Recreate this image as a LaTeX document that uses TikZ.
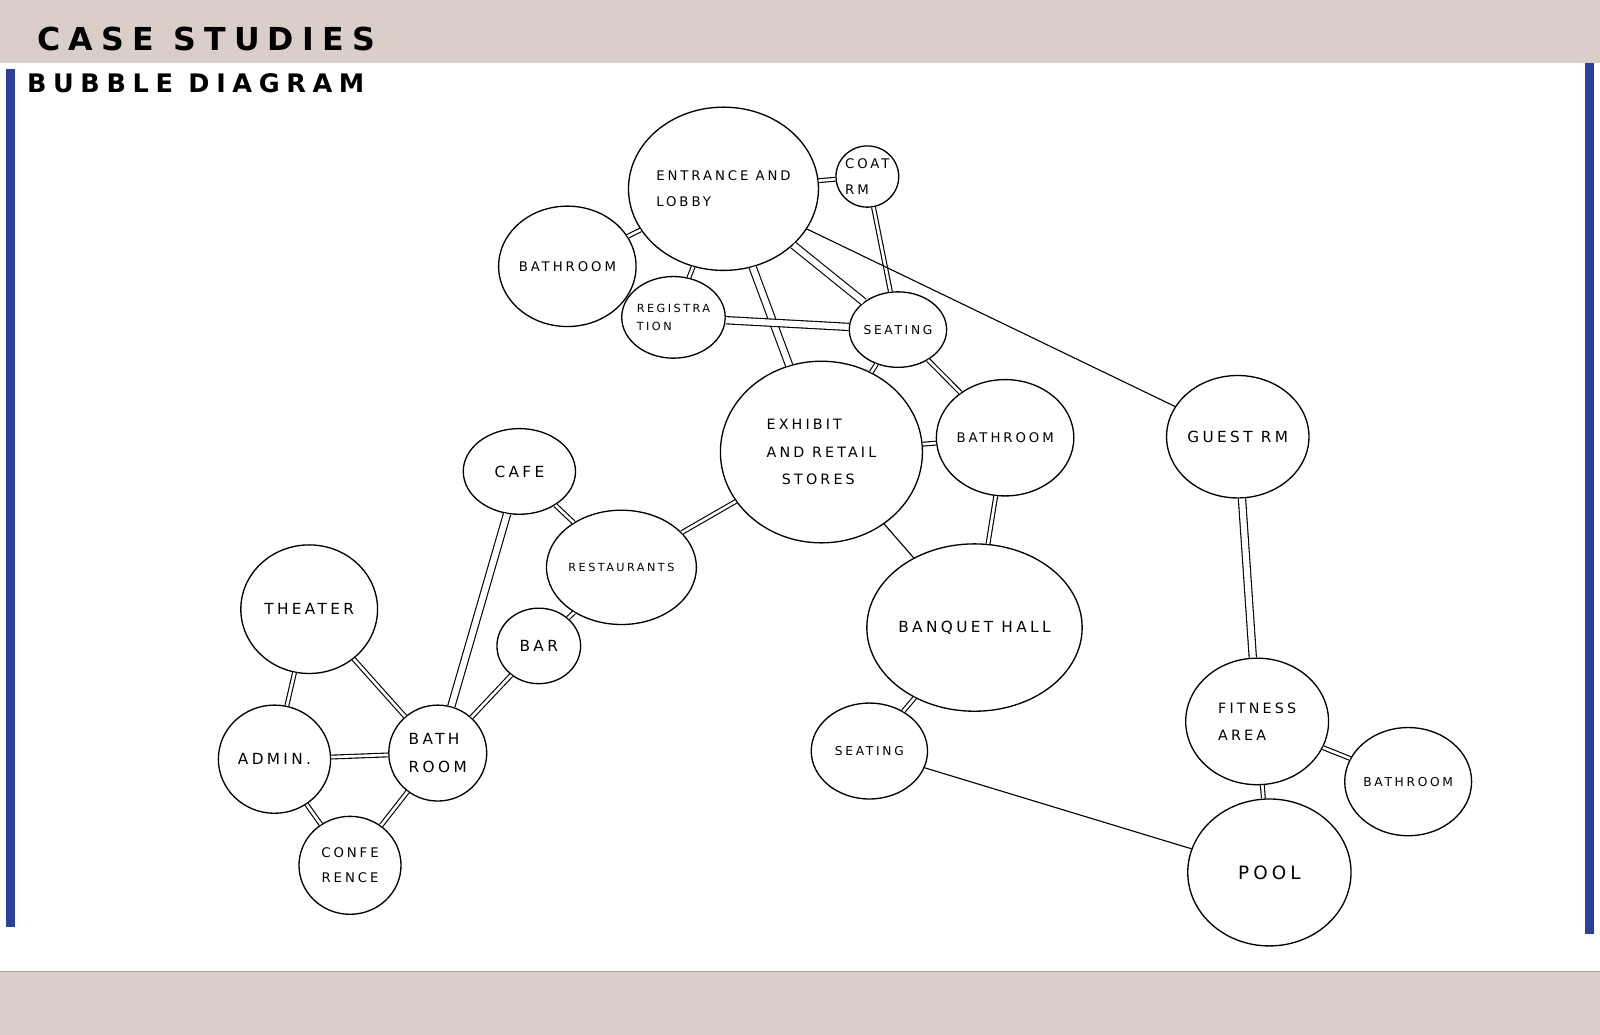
\documentclass[tikz,border=0pt]{standalone}
\usepackage{fontspec}
\setmainfont{DejaVu Sans}
\newfontfamily\bub[LetterSpace=22]{DejaVu Sans}
\newfontfamily\ttl[LetterSpace=26]{DejaVu Sans}
\usetikzlibrary{shapes.geometric}
\definecolor{band}{HTML}{D9CEC8}
\definecolor{bar}{HTML}{2B3F9C}
\begin{document}
\begin{tikzpicture}[x=1pt,y=-1pt,
  bub/.style={ellipse,draw,line width=1.3pt,fill=white,inner sep=0pt,font=\bub\fontsize{13}{25}\selectfont,align=left},
  dbl/.style={double,double distance=2.6pt,line width=1.1pt},
  dblw/.style={double,double distance=6pt,line width=1.1pt},
  sgl/.style={line width=1.1pt}]
\useasboundingbox (0,0) rectangle (1568,1014);
\fill[white] (0,0) rectangle (1568,1014);
\fill[band] (0,0) rectangle (1568,62);
\fill[band] (0,952) rectangle (1568,1014);
\draw[gray!70,line width=0.8pt] (0,952) -- (1568,952);
\fill[bar] (6,68) rectangle (15,908);
\fill[bar] (1553,62) rectangle (1562,915);
\node[anchor=west,font=\ttl\bfseries\fontsize{31}{32}\selectfont] (t1) at (33,38) {CASE STUDIES};
\node[anchor=west,font=\ttl\bfseries\fontsize{25}{26}\selectfont] (t2) at (23,82) {BUBBLE DIAGRAM};

\node[bub,minimum width=168pt,minimum height=160pt] (lobby) at (709,185) {ENTRANCE AND\\LOBBY};
\node[bub,minimum width=60pt,minimum height=60pt] (coat) at (850,173) {COAT\\RM};
\node[bub,minimum width=130pt,minimum height=118pt] (bath1) at (556,261) {BATHROOM};
\node[bub,minimum width=88pt,minimum height=80pt,font=\bub\fontsize{11}{17}\selectfont] (reg) at (660,311) {REGISTRA\\TION};
\node[bub,minimum width=90pt,minimum height=74pt,font=\bub\fontsize{12}{13}\selectfont] (seat1) at (880,323) {SEATING};
\node[bub,minimum width=198pt,minimum height=178pt,font=\bub\fontsize{14}{27}\selectfont] (exh) at (805,443) {EXHIBIT\\AND RETAIL\\\ \ STORES};
\node[bub,minimum width=128pt,minimum height=114pt] (bath2) at (985,429) {BATHROOM};
\node[bub,minimum width=138pt,minimum height=120pt,font=\bub\fontsize{15}{15}\selectfont] (guest) at (1213,428) {GUEST RM};
\node[bub,minimum width=110pt,minimum height=84pt,font=\bub\fontsize{15}{15}\selectfont] (cafe) at (509,462) {CAFE};
\node[bub,minimum width=134pt,minimum height=112pt,font=\bub\fontsize{11}{12}\selectfont] (rest) at (609,556) {RESTAURANTS};
\node[bub,minimum width=82pt,minimum height=74pt,font=\bub\fontsize{15}{15}\selectfont] (barr) at (528,633) {BAR};
\node[bub,minimum width=134pt,minimum height=126pt,font=\bub\fontsize{15}{15}\selectfont] (theat) at (303,597) {THEATER};
\node[bub,minimum width=110pt,minimum height=106pt,font=\bub\fontsize{15}{15}\selectfont] (admin) at (269,744) {ADMIN.};
\node[bub,minimum width=96pt,minimum height=94pt,font=\bub\fontsize{15}{28}\selectfont] (bath3) at (429,738) {BATH\\ROOM};
\node[bub,minimum width=100pt,minimum height=96pt,font=\bub\fontsize{13}{24}\selectfont,align=center] (conf) at (343,848) {CONFE\\RENCE};
\node[bub,minimum width=184pt,minimum height=164pt,font=\bub\fontsize{15}{15}\selectfont] (banq) at (955,615) {BANQUET HALL};
\node[bub,minimum width=114pt,minimum height=94pt,font=\bub\fontsize{12}{13}\selectfont] (seat2) at (852,736) {SEATING};
\node[bub,minimum width=140pt,minimum height=124pt,font=\bub\fontsize{14}{26}\selectfont] (fit) at (1232,707) {FITNESS\\AREA};
\node[bub,minimum width=106pt,minimum height=106pt,font=\bub\fontsize{12}{13}\selectfont] (bath4) at (1380,766) {BATHROOM};
\node[bub,minimum width=160pt,minimum height=144pt,font=\bub\fontsize{18}{18}\selectfont] (pool) at (1244,855) {POOL};

\draw[dbl] (lobby) -- (coat);
\draw[dbl] (lobby) -- (bath1);
\draw[dbl] (lobby) -- (reg);
\draw[dblw] (lobby) -- (seat1);
\draw[dbl] (coat) -- (seat1);
\draw[dblw] (lobby) -- (exh);
\draw[dblw] (reg) -- (seat1);
\draw[dbl] (seat1) -- (exh);
\draw[dbl] (seat1) -- (bath2);
\draw[dbl] (exh) -- (bath2);
\draw[dbl] (exh) -- (rest);
\draw[dbl] (bath2) -- (banq);
\draw[sgl] (exh) -- (banq);
\draw[sgl] (lobby) -- (guest);
\draw[dblw] (guest) -- (fit);
\draw[dbl] (fit) -- (bath4);
\draw[dbl] (fit) -- (pool);
\draw[sgl] (seat2) -- (pool);
\draw[dbl] (banq) -- (seat2);
\draw[dbl] (cafe) -- (rest);
\draw[dbl] (rest) -- (barr);
\draw[dblw] (cafe) -- (bath3);
\draw[dbl] (barr) -- (bath3);
\draw[dbl] (theat) -- (admin);
\draw[dbl] (theat) -- (bath3);
\draw[dbl] (admin) -- (bath3);
\draw[dbl] (admin) -- (conf);
\draw[dbl] (bath3) -- (conf);
\end{tikzpicture}
\end{document}
